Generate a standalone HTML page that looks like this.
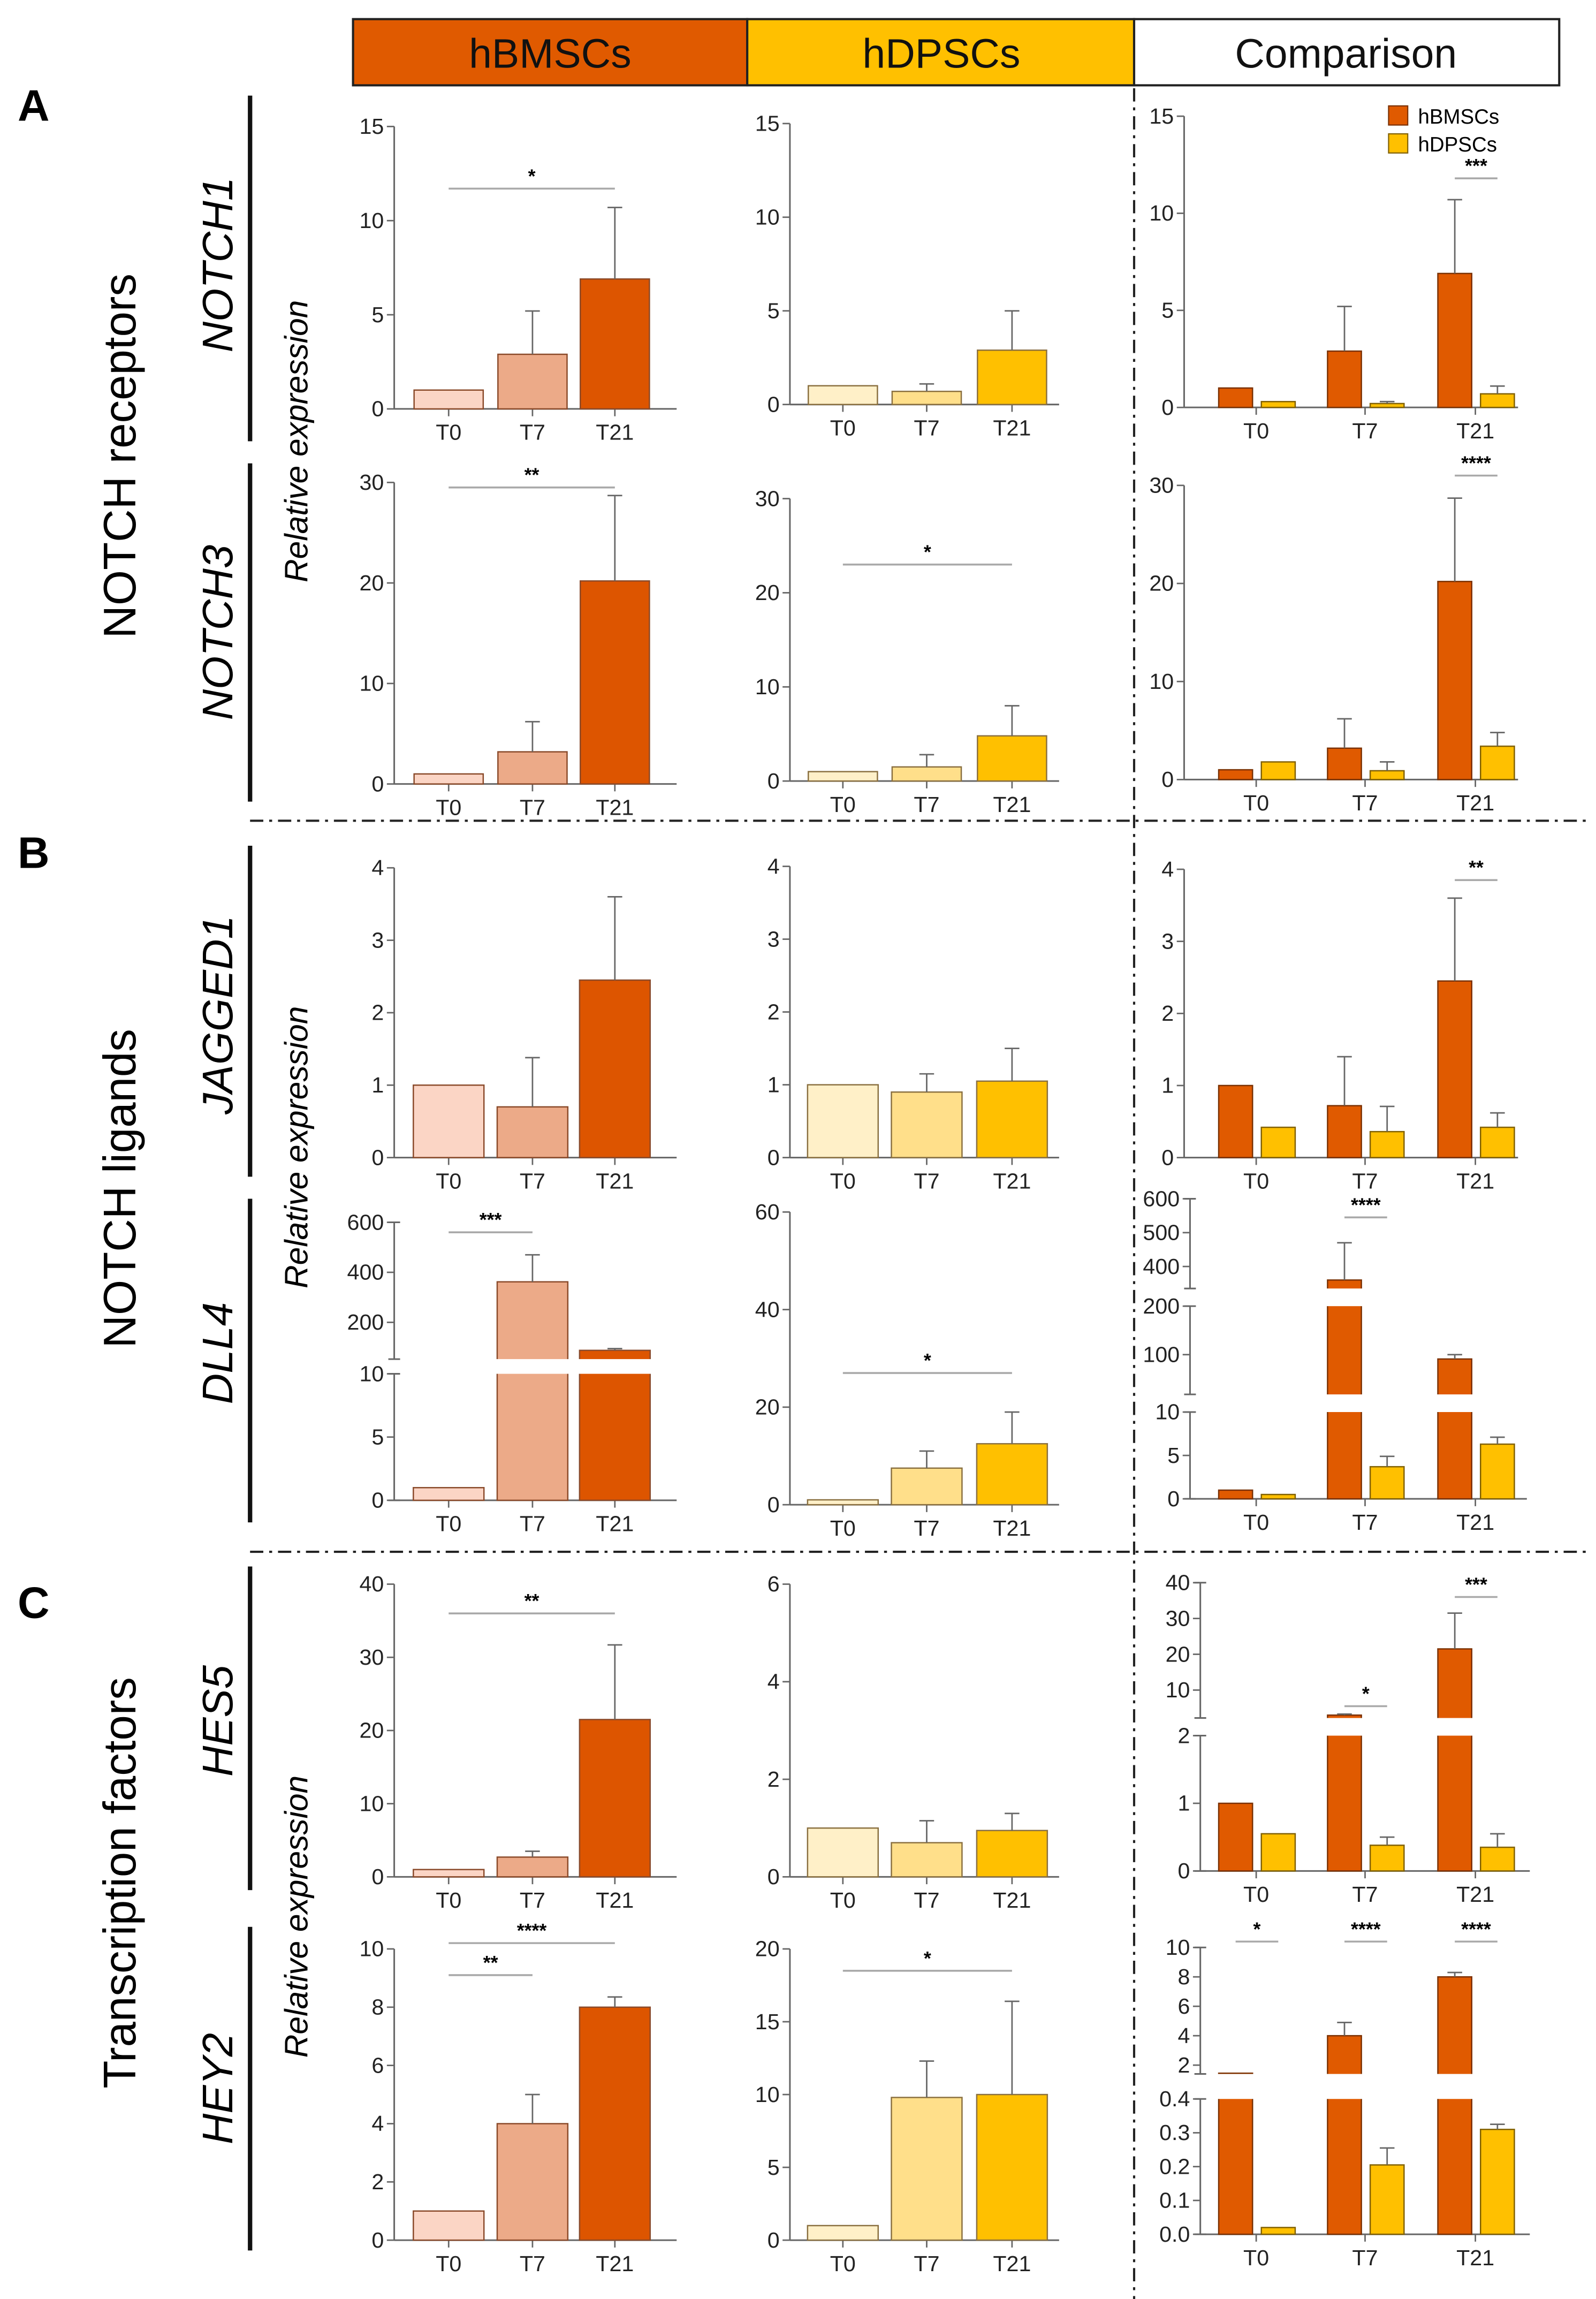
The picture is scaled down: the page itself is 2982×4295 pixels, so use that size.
<!DOCTYPE html>
<html><head><meta charset="utf-8"><style>
html,body{margin:0;padding:0;background:#fff}
svg{display:block}
text{font-family:"Liberation Sans",sans-serif}
</style></head><body>
<svg id="fig" width="2982" height="4295" viewBox="0 0 1085 1563" preserveAspectRatio="none" xmlns="http://www.w3.org/2000/svg">
<g>
<rect x="240" y="13" width="268" height="45" fill="#E05A00" stroke="#222" stroke-width="1.5"/>
<rect x="508" y="13" width="263" height="45" fill="#FFC000" stroke="#222" stroke-width="1.5"/>
<rect x="771" y="13" width="289" height="45" fill="#fff" stroke="#222" stroke-width="1.5"/>
<text x="374" y="46" font-size="28" text-anchor="middle" fill="#111">hBMSCs</text>
<text x="640" y="46" font-size="28" text-anchor="middle" fill="#111">hDPSCs</text>
<text x="915" y="46" font-size="28" text-anchor="middle" fill="#111">Comparison</text>
</g>
<text x="12" y="82" font-size="30" font-weight="bold">A</text>
<text x="12" y="590" font-size="30" font-weight="bold">B</text>
<text x="12" y="1100" font-size="30" font-weight="bold">C</text>
<text transform="translate(92,310) rotate(-90)" font-size="31" text-anchor="middle">NOTCH receptors</text>
<text transform="translate(92,808) rotate(-90)" font-size="31" text-anchor="middle">NOTCH ligands</text>
<text transform="translate(92,1280) rotate(-90)" font-size="31" text-anchor="middle">Transcription factors</text>
<text transform="translate(209,300) rotate(-90)" font-size="22" font-style="italic" text-anchor="middle">Relative expression</text>
<text transform="translate(209,780) rotate(-90)" font-size="22" font-style="italic" text-anchor="middle">Relative expression</text>
<text transform="translate(209,1303) rotate(-90)" font-size="22" font-style="italic" text-anchor="middle">Relative expression</text>
<g id="genes"></g>
<g stroke="#222" stroke-width="1.5" stroke-dasharray="9,4,2,4" fill="none">
<line x1="771" y1="60" x2="771" y2="1563"/>
<line x1="170" y1="558" x2="1078" y2="558"/>
<line x1="170" y1="1055" x2="1078" y2="1055"/>
</g>
<g>
<rect x="944" y="72" width="13" height="13" fill="#E05A00" stroke="#7a3000" stroke-width="0.8"/>
<text x="964" y="84" font-size="14">hBMSCs</text>
<rect x="944" y="91" width="13" height="13" fill="#FFC000" stroke="#806000" stroke-width="0.8"/>
<text x="964" y="103" font-size="14">hDPSCs</text>
</g>
<g id="charts"></g>
</svg>
<script>
// ---- data ----
const categories = ["T0","T7","T21"];
const genes = ["NOTCH1","NOTCH3","JAGGED1","DLL4","HES5","HEY2"];
// hBMSCs values / errors per gene
const bmscVals = [[1,2.9,6.9],[1,3.2,20.2],[1,0.7,2.45],[1,362,88],[1,2.7,21.5],[1,4.0,8.0]];
const bmscErr  = [[0,2.3,3.8],[0,3.0,8.5],[0,0.68,1.15],[0,108,7],[0,0.8,10.2],[0,1.0,0.35]];
// hDPSCs
const dpscVals = [[1,0.7,2.9],[1,1.5,4.8],[1,0.9,1.05],[1,7.5,12.5],[1,0.7,0.95],[1,9.8,10.0]];
const dpscErr  = [[0,0.4,2.1],[0,1.3,3.2],[0,0.25,0.45],[0,3.5,6.5],[0,0.45,0.35],[0,2.5,6.4]];
// comparison
const compB = [[1,2.9,6.9],[1,3.2,20.2],[1,0.72,2.45],[1,360,91],[1,3,21.5],[1.45,4.0,8.0]];
const compBErr = [[0,2.3,3.8],[0,3.0,8.5],[0,0.68,1.15],[0,110,9],[0,0.3,10],[0,0.9,0.3]];
const compD = [[0.3,0.2,0.7],[1.8,0.9,3.4],[0.42,0.36,0.42],[0.5,3.7,6.3],[0.55,0.38,0.35],[0.02,0.205,0.31]];
const compDErr = [[0,0.1,0.4],[0,0.9,1.4],[0,0.35,0.2],[0,1.2,0.8],[0,0.12,0.2],[0,0.05,0.015]];
// tick labels
const ticksB = [[0,5,10,15],[0,10,20,30],[0,1,2,3,4],[0,5,10,200,400,600],[0,10,20,30,40],[0,2,4,6,8,10]];
const ticksD = [[0,5,10,15],[0,10,20,30],[0,1,2,3,4],[0,20,40,60],[0,2,4,6],[0,5,10,15,20]];
const ticksC = [[0,5,10,15],[0,10,20,30],[0,1,2,3,4],[0,5,10,100,200,400,500,600],[0,1,2,10,20,30,40],[0.0,0.1,0.2,0.3,0.4,2,4,6,8,10]];
const tickFmtC5 = ["0.0","0.1","0.2","0.3","0.4","2","4","6","8","10"];
// significance: [column, gene, fromCat, toCat, value, label]
const sigs = [
 [0,0,0,2,11.7,"*"],[2,0,2,2,11.8,"***"],
 [0,1,0,2,29.5,"**"],[1,1,0,2,23,"*"],[2,1,2,2,31,"****"],
 [2,2,2,2,3.85,"**"],
 [0,3,0,1,560,"***"],[1,3,0,2,27,"*"],[2,3,1,1,545,"****"],
 [0,4,0,2,36,"**"],[2,4,1,1,5.5,"*"],[2,4,2,2,36,"***"],
 [0,5,0,1,9.1,"**"],[0,5,0,2,10.2,"****"],[1,5,0,2,18.5,"*"],[2,5,0,0,10.4,"*"],[2,5,1,1,10.4,"****"],[2,5,2,2,10.4,"****"]
];
</script>
<script>
const NS="http://www.w3.org/2000/svg";
const root=document.getElementById('charts');
function mk(tag,at,par){const e=document.createElementNS(NS,tag);for(const k in at)e.setAttribute(k,at[k]);(par||root).appendChild(e);return e;}
const L=[
 [{ax:268,xe:460,segs:[[0,15,278,86]]},{ax:537,xe:720,segs:[[0,15,275,84]]},{ax:805,xe:1032,segs:[[0,15,277,79]]}],
 [{ax:268,xe:460,segs:[[0,30,533,328]]},{ax:537,xe:720,segs:[[0,30,531,339]]},{ax:805,xe:1032,segs:[[0,30,530,330]]}],
 [{ax:268,xe:460,segs:[[0,4,787,590]]},{ax:537,xe:720,segs:[[0,4,787,589]]},{ax:805,xe:1032,segs:[[0,4,787,591]]}],
 [{ax:268,xe:460,segs:[[0,10,1020,934],[53,600,924,831]]},{ax:537,xe:720,segs:[[0,60,1023,824]]},{ax:809,xe:1038,segs:[[0,10,1019,960],[18,200,948,888],[335,600,876,815]]}],
 [{ax:268,xe:460,segs:[[0,40,1276,1077]]},{ax:537,xe:720,segs:[[0,6,1276,1077]]},{ax:816,xe:1040,segs:[[0,2,1272,1180],[2.2,40,1168,1076]]}],
 [{ax:268,xe:460,segs:[[0,10,1523,1325]]},{ax:537,xe:720,segs:[[0,20,1523,1325]]},{ax:816,xe:1040,segs:[[0,0.4,1519,1427],[1.4,10,1410,1324]]}]
];
const cx=[[305,362,418],[573,630,688]];
const cmpC=[854,928,1003];
const colB=["#FBD5C5","#ECAA88","#DD5500"], colD=["#FFF0C8","#FFDF8A","#FFC000"];
const strB="#8a4a2a", strD="#8a7040";
function scale(segs,v){
 for(let i=0;i<segs.length;i++){const s=segs[i];
  if(v<=s[1]||i==segs.length-1){
   if(v>=s[0]||i==0) return s[2]+(v-s[0])/(s[1]-s[0])*(s[3]-s[2]);
   const p=segs[i-1];
   return p[3]+(v-p[1])/(s[0]-p[1])*(s[2]-p[3]);
  }}
}
function bar(P,x,w,v,e,fill,stroke,name){
 const y0=scale(P.segs,0), y=scale(P.segs,v);
 const r=mk('rect',{x:x-w/2,y:Math.min(y,y0),width:w,height:Math.abs(y0-y),fill:fill,stroke:stroke,'stroke-width':0.9});
 
 
 for(let i=1;i<P.segs.length;i++){const lowTop=P.segs[i-1][3], upBot=P.segs[i][2];
  if(y<lowTop){const top=Math.max(upBot,y);
   const g=mk('rect',{x:x-w/2-1,y:top,width:w+2,height:Math.max(0,lowTop-top),fill:'#fff'});
   
   }}
 if(e>0){const ye=scale(P.segs,v+e);
  const l=mk('path',{d:`M${x} ${y}V${ye}M${x-5} ${ye}H${x+5}`,stroke:'#666','stroke-width':1,fill:'none'});
  
  }
}
function axes(P,ticks,fmt,name,centers){
 const g=mk('g',{});
 
 
 const y0=scale(P.segs,0);
 P.segs.forEach(s=>{mk('line',{x1:P.ax,x2:P.ax,y1:s[2],y2:s[3],stroke:'#666','stroke-width':1.1},g);
  if(P.segs.length>1){mk('line',{x1:P.ax-4,x2:P.ax+4,y1:s[2],y2:s[2],stroke:'#666','stroke-width':1.1},g);
   mk('line',{x1:P.ax-4,x2:P.ax+4,y1:s[3],y2:s[3],stroke:'#666','stroke-width':1.1},g);}});
 mk('line',{x1:P.ax,x2:P.xe,y1:y0,y2:y0,stroke:'#666','stroke-width':1.1},g);
 ticks.forEach((t,i)=>{const y=scale(P.segs,t);
  mk('line',{x1:P.ax-5,x2:P.ax,y1:y,y2:y,stroke:'#666','stroke-width':1},g);
  const tx=mk('text',{x:P.ax-7,y:y+5,'font-size':15,'text-anchor':'end',fill:'#222'},g);
  tx.textContent=fmt?fmt[i]:String(t);
  
  });
 centers.forEach((c,i)=>{mk('line',{x1:c,x2:c,y1:y0,y2:y0+5,stroke:'#666','stroke-width':1},g);
  const tx=mk('text',{x:c,y:y0+21,'font-size':15,'text-anchor':'middle',fill:'#222'},g);
  tx.textContent=categories[i];
  
  });
}
for(let r=0;r<6;r++){
 const wB=r<2?47:48;
 axes(L[r][0],ticksB[r],null,genes[r]+'-hbmscs',cx[0]);
 axes(L[r][1],ticksD[r],null,genes[r]+'-hdpscs',cx[1]);
 axes(L[r][2],ticksC[r],r==5?tickFmtC5:null,genes[r]+'-comparison',cmpC);
 for(let i=0;i<3;i++){
  bar(L[r][0],cx[0][i],wB,bmscVals[r][i],bmscErr[r][i],colB[i],strB,genes[r]+'-hbmscs-bar-'+categories[i]);
  bar(L[r][1],cx[1][i],wB,dpscVals[r][i],dpscErr[r][i],colD[i],strD,genes[r]+'-hdpscs-bar-'+categories[i]);
  bar(L[r][2],cmpC[i]-14,23,compB[r][i],compBErr[r][i],"#E05A00","#7a3000",genes[r]+'-comparison-hbmscs-'+categories[i]);
  bar(L[r][2],cmpC[i]+15,23,compD[r][i],compDErr[r][i],"#FFC000","#806000",genes[r]+'-comparison-hdpscs-'+categories[i]);
 }
}
sigs.forEach(s=>{
 const P=L[s[1]][s[0]]; const y=scale(P.segs,s[4]);
 let x1,x2;
 if(s[0]<2){x1=cx[s[0]][s[2]];x2=cx[s[0]][s[3]];}
 else {x1=cmpC[s[2]]-14;x2=cmpC[s[3]]+15;}
 const l=mk('line',{x1:x1,x2:x2,y1:y,y2:y,stroke:'#aaa','stroke-width':1.3});
 
 
 const t=mk('text',{x:(x1+x2)/2,y:y-4,'font-size':13,'font-weight':'bold','text-anchor':'middle'});
 t.textContent=s[5];
 
 
});
const gy=[[65,300,180],[315,545,430],[575,800,690],[815,1035,920],[1065,1285,1170],[1310,1530,1420]];
const gg=document.getElementById('genes');
genes.forEach((g,i)=>{
 const l=mk('line',{x1:170,x2:170,y1:gy[i][0],y2:gy[i][1],stroke:'#111','stroke-width':3},gg);
 
 
 const t=mk('text',{transform:`translate(158,${gy[i][2]}) rotate(-90)`,'font-size':29,'font-style':'italic','text-anchor':'middle'},gg);
 t.textContent=g;
 
 
});
</script>
</body></html>
